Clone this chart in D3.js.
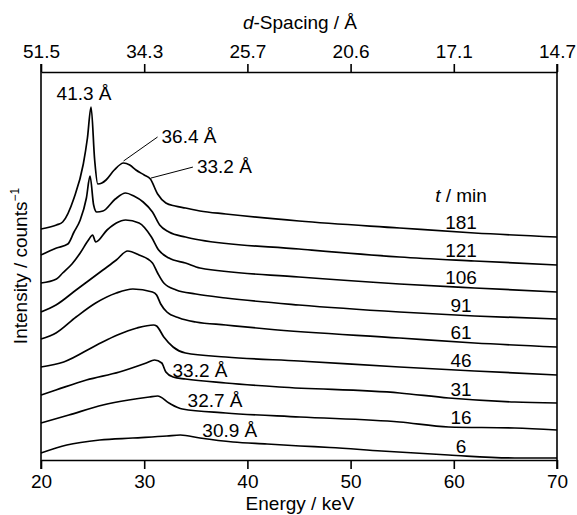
<!DOCTYPE html>
<html>
<head>
<meta charset="utf-8">
<script src="https://cdn.jsdelivr.net/npm/d3@7"></script>
<style>
  body { margin: 0; background: #fff; }
  text { font-family: "Liberation Sans", Arial, sans-serif; fill: #000; }
</style>
</head>
<body>
<div id="wrapper"></div>
<script>
// spectra: [energy keV, intensity (offset stacked)]
const s181 = [[20,231],[21.5,235],[22.1,238],[23.2,262],[24.1,296],[24.5,322],[24.85,353],[25.2,300],[25.5,276],[25.9,277],[26.3,280],[27.1,290],[28.0,297],[28.6,295],[29.2,290],[30.0,285],[30.6,281],[31.3,266],[32.1,257],[33,254],[34,252],[35.4,249],[37.9,246],[45,239],[54.75,232],[62,227],[70,223]]
const s121 = [[20,205],[21.5,212],[22.6,216],[23.2,228],[23.8,240],[24.4,262],[24.75,284],[25.1,255],[25.4,248],[26.0,249],[27.2,261],[28.2,267],[29.0,264],[29.9,258],[30.8,248],[31.5,235],[32.4,228],[34,223],[35.4,220],[45,211],[54.75,203],[62,199],[70,195]]
const s106 = [[20,177],[21.5,181],[22.1,187],[23.0,196],[23.8,207],[24.6,220],[25.0,225],[25.3,218],[26.4,230],[27.3,237],[28.2,240],[29.5,237],[30.7,223],[31.4,210],[32.4,202],[34,197],[35.4,192],[45,183],[54.75,176],[62,172],[70,168]]
const s91 = [[20,148],[21.45,155],[23.4,170],[26.0,190],[27.3,200],[28.4,209],[29.5,205],[30.8,197],[31.3,187],[31.9,177],[33.1,170],[35.0,166],[37.9,162],[45,155],[54.75,148],[62,144],[70,141]]
const s61 = [[20,121],[21.45,127],[23.4,143],[25.3,157],[27.3,167],[28.9,171],[30.8,168],[31.2,165],[31.6,156],[32.2,148],[33.4,142],[35.0,138],[37.9,135],[41.9,131],[54.75,122],[62,117],[70,113]]
const s46 = [[20,93],[22.2,98],[25.4,115],[27.4,125],[29.3,132],[30.9,135],[31.2,134],[31.9,123],[32.8,113],[34.0,107],[37.9,103],[45,99],[54.75,93],[62,89],[70,85]]
const s31 = [[20,65],[21.45,70],[24.4,80],[27.6,88],[30.2,97],[31.0,100],[31.7,97],[32.1,88],[32.8,83],[34.0,81],[37.9,77],[43.1,73],[54.75,67],[59.5,62],[65.9,58],[70,57]]
const s16 = [[20,37],[22.7,45],[26.0,55],[28.5,60],[30.5,63],[31.3,64],[32.4,57],[33.7,51],[37.9,47],[45.1,43],[54.75,38],[59.5,33],[65.9,32],[70,30]]
const s6 = [[20,7],[22.5,15],[25.7,20],[28.9,22],[32.2,24],[33.5,25],[35.4,22],[38.6,18],[41.9,16],[45.1,14],[48,12.5],[53,9],[59.5,5],[65.9,2],[70,2]]

const times = [181, 121, 106, 91, 61, 46, 31, 16, 6]
const spectra = [s181, s121, s106, s91, s61, s46, s31, s16, s6]

const energyTicks = [20, 30, 40, 50, 60, 70]
const dTickLabels = ['51.5', '34.3', '25.7', '20.6', '17.1', '14.7']

// peak labels: curve index, energy of the feature, text
const peakLabels = [
  { curve: 0, energy: 24.85, text: '41.3 Å' },
  { curve: 0, energy: 28.0, text: '36.4 Å' },
  { curve: 0, energy: 30.65, text: '33.2 Å' },
  { curve: 6, energy: 31.0, text: '33.2 Å' },
  { curve: 7, energy: 31.3, text: '32.7 Å' },
  { curve: 8, energy: 33.5, text: '30.9 Å' },
]

const dimensions = {
  width: 577,
  height: 515,
  margin: { top: 72, right: 20, bottom: 55, left: 41 },
}
dimensions.boundedWidth = dimensions.width - dimensions.margin.left - dimensions.margin.right
dimensions.boundedHeight = dimensions.height - dimensions.margin.top - dimensions.margin.bottom

const svg = d3.select('#wrapper')
  .append('svg')
  .attr('width', dimensions.width)
  .attr('height', dimensions.height)

const bounds = svg.append('g')
  .attr('transform', `translate(${dimensions.margin.left},${dimensions.margin.top})`)

const xScale = d3.scaleLinear()
  .domain([20, 70])
  .range([0, dimensions.boundedWidth])

const yScale = d3.scaleLinear()
  .domain([0, 388])
  .range([dimensions.boundedHeight, 0])

const xAccessor = d => d[0]
const yAccessor = d => d[1]

// value of a spectrum at a given energy, for placing labels
const valueAt = (pts, e) => {
  const i = d3.bisector(xAccessor).left(pts, e)
  if (i <= 0) return pts[0][1]
  if (i >= pts.length) return pts[pts.length - 1][1]
  const a = pts[i - 1], b = pts[i]
  return a[1] + (b[1] - a[1]) * (e - a[0]) / (b[0] - a[0])
}

const lineGenerator = d3.line()
  .x(d => xScale(xAccessor(d)))
  .y(d => yScale(yAccessor(d)))
  .curve(d3.curveMonotoneX)

bounds.append('g')
  .selectAll('path')
  .data(spectra)
  .enter().append('path')
  .attr('d', lineGenerator)
  .attr('fill', 'none')
  .attr('stroke', '#000')
  .attr('stroke-width', 1.7)
  .attr('stroke-linejoin', 'round')

// axes
const bottomAxis = d3.axisBottom(xScale)
  .tickValues(energyTicks)
  .tickSize(9)
  .tickSizeOuter(0)
  .tickPadding(6)

const topAxis = d3.axisTop(xScale)
  .tickValues(energyTicks)
  .tickFormat((d, i) => dTickLabels[i])
  .tickSize(8)
  .tickSizeOuter(0)
  .tickPadding(6)

const styleAxis = g => {
  g.select('.domain').attr('stroke-width', 1.6)
  g.selectAll('.tick line').attr('stroke-width', 1.6)
  g.selectAll('.tick text')
    .style('font-family', '"Liberation Sans", Arial, sans-serif')
    .style('font-size', '19px')
    .attr('fill', '#000')
}

bounds.append('g')
  .attr('transform', `translate(0,${dimensions.boundedHeight})`)
  .call(bottomAxis)
  .call(styleAxis)

bounds.append('g')
  .call(topAxis)
  .call(styleAxis)

// side frame lines
bounds.append('line')
  .attr('x1', 0).attr('x2', 0)
  .attr('y1', -8).attr('y2', dimensions.boundedHeight + 9)
  .attr('stroke', '#000').attr('stroke-width', 1.6)
bounds.append('line')
  .attr('x1', dimensions.boundedWidth).attr('x2', dimensions.boundedWidth)
  .attr('y1', -8).attr('y2', dimensions.boundedHeight + 9)
  .attr('stroke', '#000').attr('stroke-width', 1.6)

// axis titles
svg.append('text')
  .attr('x', 300)
  .attr('y', 510)
  .style('text-anchor', 'middle')
  .style('font-size', '19px')
  .text('Energy / keV')

const topTitle = svg.append('text')
  .attr('x', 300)
  .attr('y', 29)
  .style('text-anchor', 'middle')
  .style('font-size', '19px')
topTitle.append('tspan').style('font-style', 'italic').text('d')
topTitle.append('tspan').text('-Spacing / Å')

const yTitle = svg.append('text')
  .attr('transform', `translate(27,${dimensions.margin.top + dimensions.boundedHeight / 2}) rotate(-90)`)
  .style('text-anchor', 'middle')
  .style('font-size', '19px')
yTitle.append('tspan').text('Intensity / counts')
yTitle.append('tspan').attr('dy', -8).style('font-size', '12px').text('−1')

// time labels
const labelEnergy = 60.7
bounds.append('g')
  .selectAll('text')
  .data(times)
  .enter().append('text')
  .attr('x', xScale(labelEnergy))
  .attr('y', (d, i) => yScale(valueAt(spectra[i], labelEnergy)) - 3)
  .style('text-anchor', 'middle')
  .style('font-size', '19px')
  .text(d => d)

const tTitle = bounds.append('text')
  .attr('x', xScale(labelEnergy))
  .attr('y', yScale(valueAt(s181, labelEnergy)) - 30)
  .style('text-anchor', 'middle')
  .style('font-size', '19px')
tTitle.append('tspan').style('font-style', 'italic').text('t')
tTitle.append('tspan').text(' / min')

// peak annotations
const peakPos = peakLabels.map(p => ({
  ...p,
  px: xScale(p.energy),
  py: yScale(valueAt(spectra[p.curve], p.energy)),
}))

// 41.3: text above the peak
const p0 = peakPos[0]
bounds.append('text')
  .attr('x', p0.px - 7).attr('y', p0.py - 7)
  .style('text-anchor', 'middle').style('font-size', '19px')
  .text(p0.text)

// 36.4 and upper 33.2: leader lines
const leaders = [
  { p: peakPos[1], dx: 34, dy: -26 },
  { p: peakPos[2], dx: 42, dy: -13 },
]
leaders.forEach(({ p, dx, dy }) => {
  bounds.append('line')
    .attr('x1', p.px).attr('y1', p.py - 2)
    .attr('x2', p.px + dx).attr('y2', p.py + dy)
    .attr('stroke', '#000').attr('stroke-width', 1)
  bounds.append('text')
    .attr('x', p.px + dx + 4).attr('y', p.py + dy + 6)
    .style('font-size', '19px')
    .text(p.text)
})

// lower curves: text to the right of the bump
const lowerOffsets = [[18, 17], [30, 11], [22, 2]]
peakPos.slice(3).forEach((p, i) => {
  bounds.append('text')
    .attr('x', p.px + lowerOffsets[i][0]).attr('y', p.py + lowerOffsets[i][1])
    .style('font-size', '19px')
    .text(p.text)
})
</script>
</body>
</html>
